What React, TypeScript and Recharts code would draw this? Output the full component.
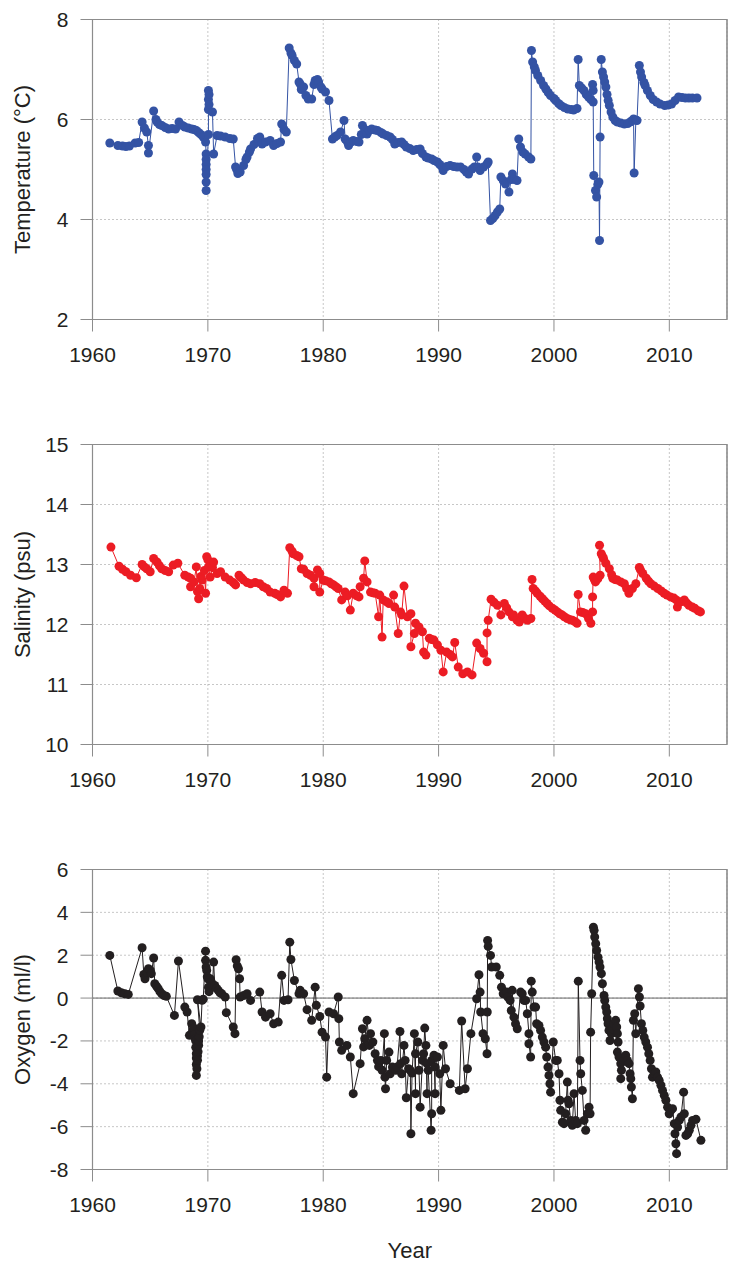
import { LineChart, Line, XAxis, YAxis, CartesianGrid, ReferenceLine, ReferenceArea } from 'recharts';

const yearTicks = [1960, 1970, 1980, 1990, 2000, 2010];
const tempTicks = [2, 4, 6, 8];
const salTicks = [10, 11, 12, 13, 14, 15];
const oxyTicks = [-8, -6, -4, -2, 0, 2, 4, 6];

const tempYears = [
  1961.5, 1962.2, 1962.6, 1962.9, 1963.2, 1963.7, 1964.0, 1964.3, 1964.5, 1964.7, 1964.85, 1964.85,
  1965.3, 1965.5, 1965.6, 1965.8, 1966.0, 1966.3, 1966.6, 1966.9, 1967.2, 1967.5, 1967.8, 1968.0,
  1968.3, 1968.6, 1968.8, 1969.0, 1969.2, 1969.4, 1969.6, 1969.8, 1969.85, 1969.85, 1969.85, 1969.85,
  1969.85, 1969.85, 1969.85, 1970.05, 1970.05, 1970.05, 1970.05, 1970.1, 1970.1, 1970.4, 1970.5, 1970.8,
  1971.1, 1971.5, 1971.9, 1972.2, 1972.4, 1972.5, 1972.6, 1972.8, 1973.1, 1973.3, 1973.4, 1973.6,
  1973.7, 1974.0, 1974.3, 1974.5, 1974.7, 1975.0, 1975.4, 1975.7, 1976.0, 1976.3, 1976.4, 1976.6,
  1976.8, 1977.05, 1977.2, 1977.3, 1977.5, 1977.7, 1977.9, 1978.0, 1978.1, 1978.3, 1978.5, 1978.7,
  1979.0, 1979.2, 1979.3, 1979.5, 1979.6, 1979.8, 1979.9, 1980.2, 1980.5, 1980.8, 1981.0, 1981.2,
  1981.5, 1981.8, 1981.9, 1982.1, 1982.2, 1982.4, 1982.6, 1982.9, 1983.1, 1983.3, 1983.4, 1983.6,
  1983.8, 1984.0, 1984.2, 1984.5, 1984.7, 1985.0, 1985.2, 1985.5, 1985.8, 1986.0, 1986.2, 1986.5,
  1986.8, 1987.0, 1987.2, 1987.5, 1987.8, 1988.1, 1988.4, 1988.6, 1988.9, 1989.1, 1989.4, 1989.6,
  1989.9, 1990.1, 1990.3, 1990.4, 1990.7, 1991.0, 1991.3, 1991.6, 1991.9, 1992.2, 1992.4, 1992.6,
  1992.9, 1993.1, 1993.3, 1993.4, 1993.6, 1993.9, 1994.2, 1994.3, 1994.5, 1994.7, 1994.9, 1995.1,
  1995.3, 1995.4, 1995.6, 1995.8, 1996.1, 1996.3, 1996.4, 1996.6, 1996.8, 1996.95, 1997.1, 1997.3,
  1997.5, 1997.8, 1998.0, 1998.05, 1998.15, 1998.3, 1998.4, 1998.6, 1998.85, 1999.1, 1999.3, 1999.5,
  1999.7, 2000.0, 2000.15, 2000.4, 2000.6, 2000.9, 2001.2, 2001.5, 2001.7, 2002.0, 2002.1, 2002.2,
  2002.4, 2002.6, 2002.8, 2003.0, 2003.2, 2003.35, 2003.4, 2003.4, 2003.45, 2003.6, 2003.7, 2003.8,
  2003.9, 2003.95, 2004.0, 2004.1, 2004.2, 2004.3, 2004.4, 2004.5, 2004.6, 2004.7, 2004.8, 2004.95,
  2005.1, 2005.3, 2005.5, 2005.8, 2006.1, 2006.4, 2006.6, 2006.8, 2006.9, 2006.95, 2007.1, 2007.2,
  2007.4, 2007.5, 2007.6, 2007.8, 2007.9, 2008.1, 2008.35, 2008.6, 2008.9, 2009.2, 2009.6, 2009.9,
  2010.2, 2010.5, 2010.8, 2011.1, 2011.4, 2011.7, 2012.0, 2012.4,
];
const tempValues = [
  5.53, 5.48, 5.47, 5.46, 5.47, 5.53, 5.54, 5.95, 5.83, 5.75, 5.48, 5.33,
  6.17, 6.0, 5.95, 5.9, 5.88, 5.84, 5.81, 5.82, 5.81, 5.95, 5.88, 5.85,
  5.83, 5.81, 5.8, 5.78, 5.74, 5.7, 5.65, 5.55, 5.31, 5.2, 5.1, 5.0,
  4.9, 4.75, 4.58, 5.7, 6.2, 6.4, 6.58, 6.5, 6.3, 6.15, 5.31, 5.68,
  5.67, 5.65, 5.62, 5.61, 5.05, 5.0, 4.92, 4.95, 5.08, 5.2, 5.25, 5.35,
  5.41, 5.5, 5.62, 5.65, 5.51, 5.55, 5.58, 5.48, 5.52, 5.55, 5.91, 5.8,
  5.75, 7.43, 7.33, 7.28, 7.18, 7.11, 6.75, 6.71, 6.6, 6.65, 6.48, 6.41,
  6.41, 6.7, 6.78, 6.8, 6.75, 6.65, 6.61, 6.55, 6.38, 5.61, 5.65, 5.68,
  5.75, 5.98, 5.61, 5.55, 5.48, 5.55, 5.58, 5.56, 5.55, 5.7, 5.88, 5.8,
  5.71, 5.78, 5.81, 5.79, 5.78, 5.74, 5.71, 5.68, 5.65, 5.6, 5.51, 5.54,
  5.55, 5.5, 5.45, 5.42, 5.38, 5.4, 5.41, 5.32, 5.25, 5.23, 5.21, 5.18,
  5.15, 5.1, 5.05, 4.98, 5.06, 5.08, 5.06, 5.05, 5.05, 5.0, 4.95, 4.91,
  5.01, 5.05, 5.25, 5.05, 4.98, 5.05, 5.11, 5.15, 3.98, 4.02, 4.08, 4.15,
  4.21, 4.85, 4.78, 4.71, 4.55, 4.8, 4.91, 4.8, 4.78, 5.61, 5.45, 5.35,
  5.31, 5.25, 5.21, 7.38, 7.15, 7.05, 6.98, 6.88, 6.78, 6.68, 6.61, 6.54,
  6.48, 6.42, 6.38, 6.32, 6.28, 6.24, 6.21, 6.2, 6.19, 6.22, 7.2, 6.68,
  6.63, 6.58, 6.5, 6.45, 6.4, 6.7, 6.58, 6.35, 4.88, 4.58, 4.45, 4.7,
  4.75, 3.58, 5.65, 7.2, 6.95, 6.85, 6.75, 6.65, 6.5, 6.38, 6.28, 6.15,
  6.05, 5.98, 5.95, 5.93, 5.91, 5.92, 5.95, 5.98, 6.01, 4.93, 5.99, 5.98,
  7.08, 6.95, 6.85, 6.74, 6.68, 6.58, 6.48, 6.4, 6.35, 6.31, 6.28, 6.29,
  6.31, 6.38, 6.45, 6.44, 6.43, 6.43, 6.43, 6.43,
];

const salYears = [
  1961.6, 1962.3, 1962.6, 1962.9, 1963.3, 1963.8, 1964.3, 1964.5, 1964.7, 1965.0, 1965.3, 1965.6,
  1965.8, 1966.0, 1966.3, 1966.6, 1967.0, 1967.4, 1968.0, 1968.3, 1968.5, 1968.5, 1968.8, 1969.0,
  1969.1, 1969.2, 1969.3, 1969.4, 1969.5, 1969.7, 1969.8, 1969.9, 1970.0, 1970.05, 1970.2, 1970.4,
  1970.5, 1970.8, 1971.1, 1971.5, 1971.9, 1972.2, 1972.4, 1972.7, 1972.9, 1973.1, 1973.4, 1973.7,
  1974.1, 1974.5, 1974.8, 1975.1, 1975.4, 1975.8, 1976.0, 1976.3, 1976.6, 1976.9, 1977.1, 1977.3,
  1977.4, 1977.7, 1977.9, 1978.1, 1978.3, 1978.6, 1978.9, 1979.2, 1979.2, 1979.5, 1979.7, 1979.7,
  1980.0, 1980.2, 1980.5, 1980.7, 1980.9, 1981.1, 1981.3, 1981.6, 1981.9, 1982.1, 1982.35, 1982.6,
  1982.9, 1983.1, 1983.2, 1983.5, 1983.6, 1983.8, 1984.1, 1984.3, 1984.5, 1984.8, 1984.9, 1985.1,
  1985.2, 1985.5, 1985.7, 1986.1, 1986.2, 1986.5, 1986.7, 1986.8, 1987.0, 1987.3, 1987.6, 1987.6,
  1987.9, 1988.0, 1988.3, 1988.6, 1988.7, 1988.9, 1989.2, 1989.4, 1989.6, 1989.9, 1990.2, 1990.4,
  1990.7, 1991.0, 1991.2, 1991.4, 1991.7, 1992.1, 1992.5, 1992.9, 1993.3, 1993.6, 1993.9, 1994.2,
  1994.2, 1994.3, 1994.55, 1994.8, 1995.1, 1995.4, 1995.7, 1995.9, 1996.1, 1996.4, 1996.5, 1996.8,
  1997.0, 1997.25, 1997.5, 1997.7, 1998.0, 1998.1, 1998.2, 1998.4, 1998.55, 1998.8, 1999.0, 1999.2,
  1999.4, 1999.6, 1999.86, 2000.1, 2000.3, 2000.5, 2000.7, 2000.9, 2001.15, 2001.4, 2001.6, 2001.8,
  2002.0, 2002.1, 2002.3, 2002.5, 2002.75, 2003.0, 2003.2, 2003.35, 2003.35, 2003.4, 2003.5, 2003.6,
  2003.8, 2004.0, 2003.95, 2004.1, 2004.2, 2004.3, 2004.5, 2004.8, 2005.0, 2005.1, 2005.3, 2005.5,
  2005.8, 2006.1, 2006.3, 2006.5, 2006.8, 2007.1, 2007.4, 2007.5, 2007.7, 2008.0, 2008.2, 2008.4,
  2008.7, 2009.0, 2009.3, 2009.55, 2009.8, 2010.1, 2010.4, 2010.6, 2010.7, 2011.0, 2011.3, 2011.5,
  2011.7, 2012.0, 2012.2, 2012.5, 2012.7,
];
const salValues = [
  13.29, 12.97, 12.92, 12.88, 12.82, 12.78, 13.0, 12.96, 12.93, 12.88, 13.1, 13.04,
  12.98, 12.93, 12.9, 12.88, 12.99, 13.02, 12.82, 12.79, 12.77, 12.63, 12.71, 12.96,
  12.55, 12.43, 12.6, 12.8, 12.74, 12.9, 12.52, 13.13, 13.08, 12.96, 12.79, 12.95,
  13.04, 12.85, 12.88, 12.79, 12.74, 12.7, 12.66, 12.82, 12.78, 12.74, 12.7, 12.68,
  12.7, 12.68, 12.63, 12.6, 12.54, 12.52, 12.5, 12.46, 12.57, 12.52, 13.28, 13.22,
  13.18, 13.15, 13.13, 12.93, 12.92, 12.85, 12.82, 12.77, 12.63, 12.91, 12.85, 12.54,
  12.74, 12.73, 12.71, 12.68, 12.66, 12.63, 12.6, 12.41, 12.54, 12.48, 12.24, 12.52,
  12.48, 12.46, 12.63, 12.77, 13.06, 12.71, 12.54, 12.53, 12.52, 12.13, 12.49, 11.79,
  12.41, 12.38, 12.35, 12.49, 12.29, 11.85, 12.21, 12.16, 12.64, 12.13, 12.18, 11.63,
  11.85, 12.02, 11.96, 11.88, 11.54, 11.49, 11.77, 11.75, 11.74, 11.66, 11.57, 11.21,
  11.54, 11.5, 11.46, 11.7, 11.29, 11.18, 11.21, 11.16, 11.69, 11.6, 11.52, 11.38,
  11.86, 12.07, 12.42, 12.37, 12.32, 12.16, 12.35, 12.28, 12.21, 12.13, 12.16, 12.07,
  12.04, 12.16, 12.1, 12.07, 12.1, 12.75, 12.6, 12.56, 12.52, 12.47, 12.43, 12.39,
  12.35, 12.31, 12.27, 12.24, 12.21, 12.18, 12.16, 12.13, 12.1, 12.08, 12.07, 12.05,
  12.02, 12.5, 12.21, 12.2, 12.18, 12.1, 12.02, 12.21, 12.46, 12.79, 12.75, 12.71,
  12.76, 12.82, 13.32, 13.18, 13.14, 13.1, 13.02, 12.93, 12.83, 12.77, 12.75, 12.74,
  12.71, 12.68, 12.6, 12.52, 12.6, 12.68, 12.95, 12.91, 12.85, 12.77, 12.72, 12.68,
  12.64, 12.6, 12.56, 12.52, 12.49, 12.46, 12.44, 12.41, 12.29, 12.38, 12.41, 12.36,
  12.32, 12.29, 12.27, 12.23, 12.21,
];

const oxyYears = [
  1961.5, 1962.2, 1962.5, 1962.8, 1963.1, 1964.3, 1964.45, 1964.55, 1964.7, 1964.85, 1965.0, 1965.1,
  1965.3, 1965.4, 1965.55, 1965.7, 1965.85, 1966.0, 1966.2, 1966.4, 1967.1, 1967.45, 1968.0, 1968.2,
  1968.4, 1968.6, 1968.7, 1968.8, 1968.85, 1968.9, 1968.95, 1968.95, 1969.0, 1969.0, 1969.0, 1969.0,
  1969.05, 1969.1, 1969.1, 1969.15, 1969.2, 1969.2, 1969.25, 1969.3, 1969.1, 1969.4, 1969.5, 1969.6,
  1969.8, 1969.8, 1969.85, 1969.9, 1969.95, 1970.0, 1970.05, 1970.1, 1970.2, 1970.3, 1970.4, 1970.5,
  1970.6, 1970.75, 1970.9, 1971.05, 1971.2, 1971.5, 1971.6, 1972.2, 1972.35, 1972.45, 1972.55, 1972.65,
  1972.75, 1972.8, 1973.1, 1973.4, 1973.7, 1974.5, 1974.7, 1975.0, 1975.4, 1975.7, 1976.1, 1976.4,
  1976.6, 1976.95, 1977.1, 1977.2, 1977.5, 1977.9, 1978.0, 1978.3, 1978.6, 1979.0, 1979.3, 1979.4,
  1979.7, 1979.9, 1980.2, 1980.3, 1980.5, 1980.9, 1981.3, 1981.35, 1981.4, 1981.6, 1982.05, 1982.35,
  1982.6, 1983.2, 1983.4, 1983.5, 1983.6, 1983.8, 1984.0, 1984.1, 1984.3, 1984.5, 1984.7, 1984.8,
  1985.0, 1985.1, 1985.3, 1985.35, 1985.4, 1985.5, 1985.7, 1985.8, 1986.0, 1986.3, 1986.4, 1986.65,
  1986.7, 1986.8, 1987.0, 1987.1, 1987.2, 1987.4, 1987.55, 1987.6, 1987.7, 1987.9, 1988.0, 1988.0,
  1988.2, 1988.3, 1988.4, 1988.6, 1988.7, 1988.8, 1988.9, 1989.0, 1989.0, 1989.1, 1989.35, 1989.4,
  1989.4, 1989.6, 1989.7, 1989.7, 1989.9, 1990.1, 1990.2, 1990.4, 1990.6, 1991.0, 1991.8, 1992.0,
  1992.3, 1992.5, 1992.8, 1993.3, 1993.5, 1993.6, 1993.65, 1993.85, 1994.05, 1994.2, 1994.22, 1994.25,
  1994.3, 1994.5, 1994.6, 1995.0, 1995.3, 1995.45, 1995.6, 1995.75, 1995.9, 1996.0, 1996.2, 1996.3,
  1996.38, 1996.53, 1996.67, 1996.82, 1997.11, 1997.25, 1997.4, 1997.55, 1997.69, 1997.83, 1997.83, 1997.98,
  1998.03, 1998.12, 1998.27, 1998.41, 1998.5, 1998.7, 1998.84, 1998.99, 1999.13, 1999.28, 1999.37, 1999.48,
  1999.57, 1999.65, 1999.71, 1999.94, 2000.15, 2000.29, 2000.44, 2000.52, 2000.58, 2000.73, 2000.87, 2001.01,
  2001.16, 2001.22, 2001.3, 2001.45, 2001.59, 2001.74, 2001.88, 2002.03, 2002.11, 2002.26, 2002.32, 2002.46,
  2002.61, 2002.75, 2002.9, 2003.04, 2003.13, 2003.18, 2003.27, 2003.42, 2003.48, 2003.53, 2003.62, 2003.7,
  2003.82, 2003.91, 2003.99, 2004.11, 2004.2, 2004.34, 2004.4, 2004.49, 2004.57, 2004.63, 2004.69, 2004.77,
  2004.86, 2004.98, 2005.06, 2005.21, 2005.35, 2005.44, 2005.5, 2005.56, 2005.5, 2005.64, 2005.79, 2005.85,
  2005.79, 2006.02, 2006.22, 2006.37, 2006.51, 2006.6, 2006.66, 2006.71, 2006.8, 2006.89, 2007.0, 2007.09,
  2007.32, 2007.41, 2007.47, 2007.58, 2007.7, 2007.82, 2007.96, 2008.11, 2008.22, 2008.34, 2008.45, 2008.54,
  2008.69, 2008.83, 2008.98, 2009.12, 2009.27, 2009.41, 2009.56, 2009.7, 2009.85, 2009.99, 2010.14, 2010.28,
  2010.43, 2010.49, 2010.57, 2010.63, 2010.72, 2010.86, 2011.01, 2011.24, 2011.3, 2011.44, 2011.59, 2011.73,
  2011.88, 2012.02, 2012.31, 2012.74,
];
const oxyValues = [
  1.99, 0.33, 0.25, 0.2, 0.17, 2.35, 1.1, 0.9, 1.2, 1.37, 1.3, 1.14,
  1.87, 0.67, 0.55, 0.44, 0.3, 0.2, 0.12, 0.08, -0.81, 1.73, -0.42, -0.65,
  -1.74, -1.2, -1.5, -1.4, -1.7, -1.9, -2.3, -2.0, -2.6, -2.8, -3.1, -3.61,
  -3.3, -2.9, -2.7, -2.5, -2.2, -2.0, -1.8, -1.5, -0.08, -1.35, -0.1, -0.05,
  2.19, 1.76, 1.45, 1.29, 1.0, 0.9, 0.51, 0.3, 0.9, 0.75, 0.6, 1.68,
  0.59, 0.45, 0.36, 0.25, 0.2, 0.05, -0.68, -1.35, -1.66, 1.79, 1.5, 1.37,
  0.9, 0.05, 0.12, 0.2, -0.11, 0.28, -0.65, -0.89, -0.73, -1.2, -1.12, 1.06,
  -0.11, -0.08, 2.61, 1.8, 0.82, 0.2, 0.36, 0.2, -0.54, -1.04, 0.51, -0.34,
  -0.86, -1.59, -1.82, -3.69, -0.65, -0.73, 0.05, -0.96, -2.05, -2.44, -2.21, -2.75,
  -4.46, -3.06, -1.43, -2.28, -1.9, -1.04, -2.21, -1.66, -2.05, -2.6, -2.91, -3.2,
  -2.91, -3.37, -1.66, -3.69, -4.23, -2.91, -2.52, -3.53, -3.22, -3.37, -3.22, -1.56,
  -3.06, -3.53, -2.21, -2.91, -4.65, -3.3, -3.37, -6.33, -3.5, -1.66, -4.46, -2.6,
  -2.05, -3.37, -5.09, -2.91, -2.6, -1.4, -2.21, -4.46, -3.06, -3.37, -6.17, -5.4,
  -2.91, -2.67, -4.46, -3.22, -2.75, -3.53, -5.24, -2.21, -3.3, -4.0, -4.31, -1.07,
  -4.23, -3.3, -1.66, -0.03, 1.09, 0.28, -0.65, -1.66, -1.9, -2.6, -0.65, 2.69,
  2.41, 1.99, 1.45, 1.45, 1.06, 0.51, 0.2, 0.2, 0.28, 0.05, -0.11, -0.58,
  0.36, -0.89, -1.2, -1.43, 0.28, 0.2, -0.11, -0.11, -0.73, -1.66, -2.13, -2.75,
  0.79, 0.28, -0.42, -0.42, -1.2, -1.28, -1.51, -1.82, -2.05, -2.29, -2.75, -3.22,
  -3.61, -4.0, -4.39, -2.05, -2.91, -2.91, -3.53, -4.77, -5.24, -5.79, -5.86, -5.4,
  -3.92, -4.77, -4.93, -5.71, -5.94, -4.46, -5.71, -5.86, 0.79, -2.91, -3.53, -4.31,
  -5.71, -6.17, -5.4, -5.09, -5.4, -1.59, 0.2, 3.31, 3.16, 2.85, 2.54, 2.22,
  1.91, 1.68, 1.45, 1.14, 0.67, 0.12, -0.11, -0.42, -0.65, -0.96, -1.2, -1.51,
  -1.98, -1.66, -1.43, -1.2, -1.04, -1.35, -1.66, -2.05, -2.52, -2.75, -3.06, -3.37,
  -3.76, -2.91, -2.67, -2.91, -3.06, -3.53, -3.76, -4.15, -4.7, -1.04, -0.73, -1.66,
  0.44, 0.05, -0.37, -1.2, -1.51, -1.82, -2.05, -2.29, -2.6, -2.91, -3.3, -3.69,
  -3.53, -3.45, -3.69, -3.84, -4.07, -4.31, -4.54, -4.77, -5.09, -5.4, -5.24, -5.16,
  -5.86, -6.33, -6.8, -7.26, -6.02, -5.71, -5.55, -4.39, -5.4, -6.41, -6.33, -6.17,
  -5.94, -5.71, -5.66, -6.64,
];

const AXIS = '#8c8c8c';
const INK = '#231f20';
const PLOT_TOP = 19.5;

interface PanelProps {
  years: number[];
  values: number[];
  color: string;
  ticks: number[];
  title: string;
  xAxisHeight: number;
  showYear?: boolean;
  zeroLine?: boolean;
}

function Panel({ years, values, color, ticks, title, xAxisHeight, showYear, zeroLine }: PanelProps) {
  const data = years.map((year, i) => ({ year, value: values[i] }));
  const lo = ticks[0];
  const hi = ticks[ticks.length - 1];
  return (
    <LineChart
      width={733}
      height={PLOT_TOP + 300 + xAxisHeight}
      data={data}
      margin={{ top: PLOT_TOP, right: 0, bottom: 0, left: 0 }}
    >
      <CartesianGrid stroke="#8f8f8f" strokeDasharray="1 3" />
      <XAxis
        dataKey="year"
        type="number"
        domain={[1960, 2015]}
        ticks={yearTicks}
        allowDataOverflow
        height={xAxisHeight}
        tickSize={12}
        tickMargin={16}
        stroke={AXIS}
        tick={{ fill: INK, fontSize: 21 }}
        label={showYear ? { value: 'Year', position: 'insideBottom', offset: 6, style: { fill: INK, fontSize: 22 } } : undefined}
      />
      <YAxis
        type="number"
        domain={[lo, hi]}
        ticks={ticks}
        allowDataOverflow
        width={92.5}
        tickSize={12}
        tickMargin={12}
        stroke={AXIS}
        tick={{ fill: INK, fontSize: 21 }}
        label={{ value: title, angle: -90, position: 'insideLeft', offset: 22, style: { textAnchor: 'middle', fill: INK, fontSize: 22 } }}
      />
      <YAxis
        yAxisId="right"
        orientation="right"
        type="number"
        domain={[lo, hi]}
        ticks={ticks}
        allowDataOverflow
        width={6}
        tickSize={4}
        stroke={AXIS}
        tick={false}
      />
      <ReferenceArea x1={1960} x2={2015} y1={lo} y2={hi} fill="none" stroke={AXIS} strokeWidth={1.2} ifOverflow="visible" />
      {zeroLine && <ReferenceLine y={0} stroke="#666" strokeWidth={1} />}
      <Line
        dataKey="value"
        type="linear"
        stroke={color}
        strokeWidth={1}
        dot={{ r: 4.5, fill: color, stroke: 'none' }}
        activeDot={false}
        isAnimationActive={false}
      />
    </LineChart>
  );
}

export default function App() {
  return (
    <div
      style={{
        position: 'absolute',
        top: 0,
        left: 0,
        width: 733,
        height: 1263,
        background: '#fff',
        fontFamily: '"Liberation Sans", Arial, sans-serif',
      }}
    >
      <div style={{ position: 'absolute', top: 0, left: 0 }}>
        <Panel years={tempYears} values={tempValues} color="#3453a4" ticks={tempTicks} title="Temperature (°C)" xAxisHeight={60} />
      </div>
      <div style={{ position: 'absolute', top: 424.5, left: 0 }}>
        <Panel years={salYears} values={salValues} color="#ec1c24" ticks={salTicks} title="Salinity (psu)" xAxisHeight={60} />
      </div>
      <div style={{ position: 'absolute', top: 849.5, left: 0 }}>
        <Panel years={oxyYears} values={oxyValues} color={INK} ticks={oxyTicks} title="Oxygen (ml/l)" xAxisHeight={94} showYear zeroLine />
      </div>
    </div>
  );
}
